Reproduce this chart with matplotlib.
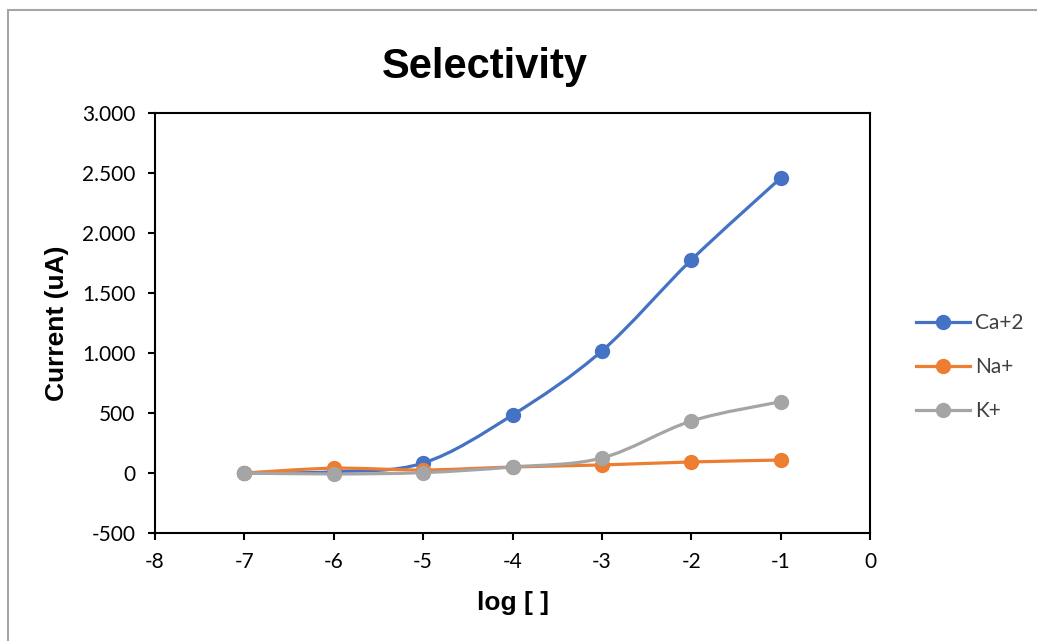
import matplotlib
matplotlib.use("Agg")
import matplotlib.pyplot as plt
from matplotlib.path import Path
from matplotlib.patches import PathPatch, Rectangle
from matplotlib.lines import Line2D
import numpy as np

plt.rcParams["axes.unicode_minus"] = False

log_conc = [-7, -6, -5, -4, -3, -2, -1]
ca = [0, 10, 83, 483, 1017, 1775, 2458]
na = [0, 40, 25, 50, 67, 92, 108]
k = [0, -8, 3, 50, 125, 433, 594]

series_names = ["Ca+2", "Na+", "K+"]
series_colors = ["#4472C4", "#ED7D31", "#A5A5A5"]
x_ticks = [-8, -7, -6, -5, -4, -3, -2, -1, 0]
y_ticks = [-500, 0, 500, 1000, 1500, 2000, 2500, 3000]
y_tick_labels = ["-500", "0", "500", "1.000", "1.500", "2.000", "2.500", "3.000"]

W, H = 1037, 641
fig = plt.figure(figsize=(W / 100, H / 100), dpi=100)
fig.patch.set_facecolor("white")

# outer chart frame
fig.add_artist(Rectangle((8 / W, -0.05), 1.1, 1 - 10 / H + 0.05, transform=fig.transFigure,
                         fill=False, edgecolor="#A6A6A6", linewidth=1.5))

left, right, top, bottom = 155, 870, 113, 533
ax = fig.add_axes([left / W, 1 - bottom / H, (right - left) / W, (bottom - top) / H])


def smooth_path(xs, ys):
    pts = np.column_stack([xs, ys]).astype(float)
    n = len(pts)
    verts = [pts[0]]
    codes = [Path.MOVETO]
    for i in range(n - 1):
        p0 = pts[i - 1] if i > 0 else pts[i]
        p1 = pts[i]
        p2 = pts[i + 1]
        p3 = pts[i + 2] if i + 2 < n else pts[i + 1]
        c1 = p1 + (p2 - p0) / 6.0
        c2 = p2 - (p3 - p1) / 6.0
        verts += [c1, c2, p2]
        codes += [Path.CURVE4] * 3
    return Path(verts, codes)


for ys, name, col in zip([ca, na, k], series_names, series_colors):
    ax.add_patch(PathPatch(smooth_path(log_conc, ys), fill=False, edgecolor=col,
                           linewidth=2.3, capstyle="round", joinstyle="round"))
    ax.plot(log_conc, ys, linestyle="none", marker="o", markersize=10,
            color=col, label=name)

ax.set_xlim(-8, 0)
ax.set_ylim(-500, 3000)
ax.set_xticks(x_ticks)
ax.set_yticks(y_ticks)
ax.set_yticklabels(y_tick_labels)
for lab in ax.get_xticklabels() + ax.get_yticklabels():
    lab.set_fontfamily(["Lato", "DejaVu Sans"])
    lab.set_fontsize(15)
    lab.set_color("#000000")
ax.tick_params(direction="out", length=5, width=1.5, color="black")
ax.tick_params(axis="x", pad=9)
ax.tick_params(axis="y", pad=9)
for sp in ax.spines.values():
    sp.set_linewidth(1.5)
    sp.set_color("black")

fig.text(485 / W, 1 - 67 / H, "Selectivity", ha="center", va="center",
         fontsize=30, fontweight="bold", family=["Liberation Sans", "DejaVu Sans"])
fig.text(513 / W, 1 - 603 / H, "log [ ]", ha="center", va="center",
         fontsize=19, fontweight="bold", family=["Liberation Sans", "DejaVu Sans"])
fig.text(57 / W, 1 - 323 / H, "Current (uA)", ha="center", va="center", rotation=90,
         fontsize=19, fontweight="bold", family=["Liberation Sans", "DejaVu Sans"])

handles = [Line2D([0], [0], color=c, linewidth=2.3, marker="o", markersize=10)
           for c in series_colors]
leg = fig.legend(handles, series_names, loc="center left", bbox_to_anchor=(916 / W, 1 - 367 / H),
                 frameon=False, borderpad=0, borderaxespad=0, handlelength=2.6,
                 labelspacing=1.15, handletextpad=0.25,
                 prop=dict(family=["Lato", "DejaVu Sans"], size=15))
for t in leg.get_texts():
    t.set_color("#404040")

fig.savefig("out.png", dpi=100)
